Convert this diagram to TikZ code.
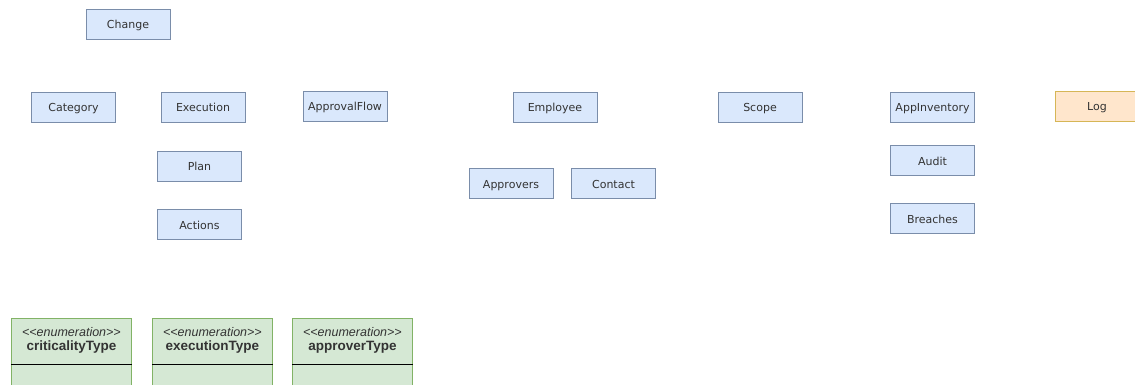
\documentclass[tikz,border=0pt]{standalone}
\usepackage{fontspec}
\setmainfont{DejaVu Sans}
\newfontfamily\umlfont{Liberation Sans}
\definecolor{clsfill}{HTML}{DAE8FC}
\definecolor{clsline}{HTML}{7A8DAA}
\definecolor{logfill}{HTML}{FFE6CC}
\definecolor{logline}{HTML}{D6B656}
\definecolor{enumfill}{HTML}{D5E8D4}
\definecolor{enumline}{HTML}{82B366}
\definecolor{labeltext}{HTML}{333333}
\tikzset{
  entity/.style={draw=clsline, fill=clsfill, line width=0.9pt, rectangle,
    minimum width=84pt, minimum height=30pt, inner sep=0pt,
    text height=10pt, text depth=0pt,
    font=\fontsize{11}{12}\selectfont, text=labeltext},
  logentity/.style={entity, draw=logline, fill=logfill},
  enumbox/.style={draw=enumline, fill=enumfill, line width=0.9pt, rectangle,
    minimum width=120pt, minimum height=80pt, inner sep=0pt, anchor=north west},
  stereo/.style={font=\umlfont\itshape\fontsize{12.5}{14}\selectfont, text=labeltext},
  enumname/.style={font=\umlfont\bfseries\fontsize{13.5}{15}\selectfont, text=labeltext},
}
\begin{document}
\begin{tikzpicture}[x=1pt, y=-1pt]
\useasboundingbox (0,0) rectangle (1135,385);
\clip (0,0) rectangle (1135,385);
\fill[white] (0,0) rectangle (1135,385);

% top-level entity
\node[entity] (change) at (128,24) {Change};

% change sub-entities
\node[entity] (category) at (73.5,107) {Category};
\node[entity] (execution) at (203,107) {Execution};
\node[entity] (approvalflow) at (345,106) {ApprovalFlow};
\node[entity] (plan) at (199.5,166) {Plan};
\node[entity] (actions) at (199.5,224) {Actions};

% people
\node[entity] (employee) at (555,107) {Employee};
\node[entity] (approvers) at (511,183) {Approvers};
\node[entity] (contact) at (613.5,183) {Contact};

% scope and inventory
\node[entity] (scope) at (760,107) {Scope};
\node[entity] (appinventory) at (932.5,107) {AppInventory};
\node[entity] (audit) at (932.5,160.5) {Audit};
\node[entity] (breaches) at (932.5,218) {Breaches};

% logging
\node[logentity] (log) at (1097,106) {Log};

% enumerations
\node[enumbox] (crit) at (11,318) {};
\node[enumbox] (exectype) at (152,318) {};
\node[enumbox] (apprtype) at (292,318) {};
\foreach \e/\n in {crit/criticalityType, exectype/executionType, apprtype/approverType}{
  \draw[black, line width=0.9pt] ([yshift=-46pt]\e.north west) -- ([yshift=-46pt]\e.north east);
  \node[stereo] at ([yshift=-14pt]\e.north) {<<enumeration>>};
  \node[enumname] at ([yshift=-29pt]\e.north) {\n};
}
\end{tikzpicture}
\end{document}
